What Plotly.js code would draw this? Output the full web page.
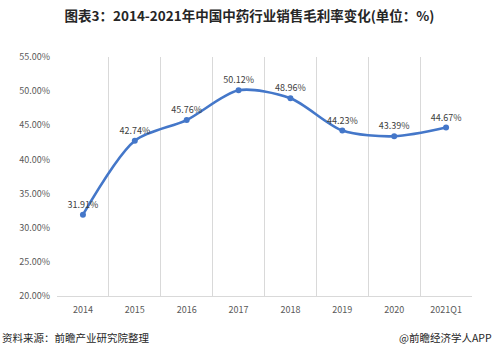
<!DOCTYPE html>
<html><head><meta charset="utf-8">
<script src="https://cdn.plot.ly/plotly-3.0.1.min.js"></script>
<style>html,body{margin:0;padding:0;background:#fff;}#chart{width:499px;height:355px;}</style>
</head><body><div id="chart"></div>
<script>
const years = ["2014","2015","2016","2017","2018","2019","2020","2021Q1"];
const margin = [31.91, 42.74, 45.76, 50.12, 48.96, 44.23, 43.39, 44.67];
const yTicks = [20,25,30,35,40,45,50,55];
const yTickText = yTicks.map(v => v.toFixed(2) + "%");
const labels = margin.map(v => v.toFixed(2) + "%");

const font = "Microsoft YaHei, 'Noto Sans CJK SC', sans-serif";
const trace = {
  x: years, y: margin, type: "scatter", mode: "lines+markers+text",
  line: {color: "#4477C9", width: 2.6, shape: "spline", smoothing: 0.8},
  marker: {color: "#4477C9", size: 6},
  text: labels, textposition: "top center",
  textfont: {family: font, size: 9, color: "#404040"},
  cliponaxis: false, hoverinfo: "none"
};
const layout = {
  width: 499, height: 355,
  margin: {l: 57, r: 27, t: 57, b: 59},
  paper_bgcolor: "#fff", plot_bgcolor: "#fff",
  showlegend: false,
  title: {text: "<b>图表3：2014-2021年中国中药行业销售毛利率变化(单位：%)</b>",
          font: {family: font, size: 13.5, color: "#262626"}, x: 0.5, xanchor: "center", y: 0.955, yanchor: "middle"},
  xaxis: {type: "category", tickson: "boundaries", showgrid: true, gridcolor: "#d9d9d9", gridwidth: 1,
          showline: true, linecolor: "#d9d9d9", ticks: "", range: [-0.5, 7.5], ticklabelstandoff: 5,
          tickfont: {family: font, size: 9, color: "#595959"}},
  yaxis: {range: [20, 55], tickvals: yTicks, ticktext: yTickText, showgrid: false, zeroline: false,
          showline: false, ticks: "", ticklabelstandoff: 6,
          tickfont: {family: font, size: 9, color: "#595959"}},
  annotations: [
    {text: "资料来源：前瞻产业研究院整理", xref: "paper", yref: "paper", x: -57/415, y: -41/238,
     xanchor: "left", yanchor: "middle", showarrow: false, font: {family: font, size: 10.5, color: "#262626"}},
    {text: "@前瞻经济学人APP", xref: "paper", yref: "paper", x: 1 + 22/415, y: -41/238,
     xanchor: "right", yanchor: "middle", showarrow: false, font: {family: font, size: 10.5, color: "#262626"}}
  ]
};
Plotly.newPlot("chart", [trace], layout, {displayModeBar: false, staticPlot: true});
</script></body></html>
